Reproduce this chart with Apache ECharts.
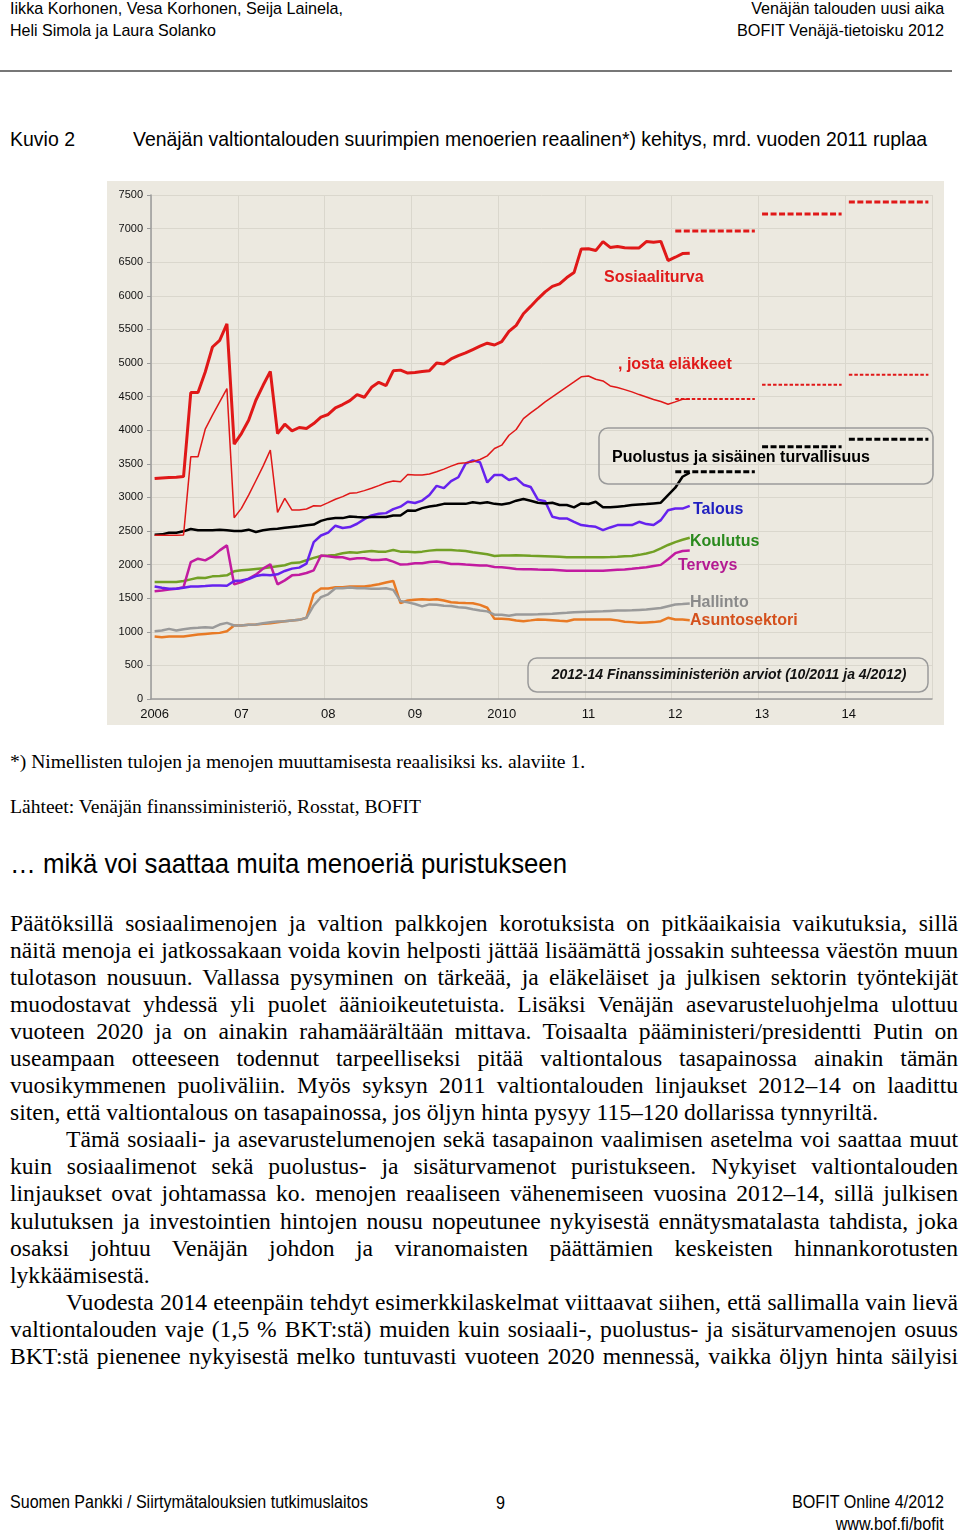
<!DOCTYPE html>
<html>
<head>
<meta charset="utf-8">
<script src="https://cdn.jsdelivr.net/npm/echarts@6/dist/echarts.min.js"></script>
<style>
  body { margin: 0; width: 960px; height: 1534px; background: #fff; position: relative; overflow: hidden; color: #000; }
  .narrow { font-family: "Liberation Sans", Arial, sans-serif; display: inline-block; }
  .serif { font-family: "Liberation Serif", "Times New Roman", serif; }
  .abs { position: absolute; white-space: nowrap; }
  #chart { position: absolute; left: 107px; top: 181px; width: 837px; height: 544px; }
  .body { position: absolute; left: 10px; top: 909.5px; width: 948px; font-size: 23.6px; line-height: 27.1px; }
  .ln { white-space: nowrap; height: 27.1px; text-align: justify; text-align-last: justify; }
  .ln.end { text-align-last: left; }
  .ln.ind { padding-left: 56px; }
</style>
</head>
<body>
  <div class="abs narrow" data-w="333" style="left:10px; top:-2.5px; font-size:17px; line-height:22px;">Iikka Korhonen, Vesa Korhonen, Seija Lainela,</div>
  <div class="abs narrow" data-w="206" style="left:10px; top:20px; font-size:17px; line-height:22px;">Heli Simola ja Laura Solanko</div>
  <div class="abs narrow" data-w="193" data-r="1" style="right:16px; top:-2.5px; font-size:17px; line-height:22px;">Venäjän talouden uusi aika</div>
  <div class="abs narrow" data-w="207" data-r="1" style="right:16px; top:20px; font-size:17px; line-height:22px;">BOFIT Venäjä-tietoisku 2012</div>
  <div class="abs" style="left:0; top:70px; width:952px; height:1.5px; background:#777;"></div>

  <div class="abs narrow" data-w="65" style="left:10px; top:126px; font-size:21px; line-height:26px;">Kuvio 2</div>
  <div class="abs narrow" data-w="794" style="left:133px; top:126px; font-size:21px; line-height:26px;">Venäjän valtiontalouden suurimpien menoerien reaalinen*) kehitys, mrd. vuoden 2011 ruplaa</div>

  <div id="chart"></div>

  <div class="abs serif" style="left:10px; top:750px; font-size:19.6px; line-height:24px;">*) Nimellisten tulojen ja menojen muuttamisesta reaalisiksi ks. alaviite 1.</div>
  <div class="abs serif" style="left:10px; top:795px; font-size:19.6px; line-height:24px;">Lähteet: Venäjän finanssiministeriö, Rosstat, BOFIT</div>

  <div class="abs narrow" data-w="557" style="left:10px; top:848px; font-size:28px; line-height:32px;">… mikä voi saattaa muita menoeriä puristukseen</div>

  <div class="body serif">
    <div class="ln">Päätöksillä sosiaalimenojen ja valtion palkkojen korotuksista on pitkäaikaisia vaikutuksia, sillä</div>
    <div class="ln">näitä menoja ei jatkossakaan voida kovin helposti jättää lisäämättä jossakin suhteessa väestön muun</div>
    <div class="ln">tulotason nousuun. Vallassa pysyminen on tärkeää, ja eläkeläiset ja julkisen sektorin työntekijät</div>
    <div class="ln">muodostavat yhdessä yli puolet äänioikeutetuista. Lisäksi Venäjän asevarusteluohjelma ulottuu</div>
    <div class="ln">vuoteen 2020 ja on ainakin rahamäärältään mittava. Toisaalta pääministeri/presidentti Putin on</div>
    <div class="ln">useampaan otteeseen todennut tarpeelliseksi pitää valtiontalous tasapainossa ainakin tämän</div>
    <div class="ln">vuosikymmenen puoliväliin. Myös syksyn 2011 valtiontalouden linjaukset 2012–14 on laadittu</div>
    <div class="ln end">siten, että valtiontalous on tasapainossa, jos öljyn hinta pysyy 115–120 dollarissa tynnyriltä.</div>
    <div class="ln ind">Tämä sosiaali- ja asevarustelumenojen sekä tasapainon vaalimisen asetelma voi saattaa muut</div>
    <div class="ln">kuin sosiaalimenot sekä puolustus- ja sisäturvamenot puristukseen. Nykyiset valtiontalouden</div>
    <div class="ln">linjaukset ovat johtamassa ko. menojen reaaliseen vähenemiseen vuosina 2012–14, sillä julkisen</div>
    <div class="ln">kulutuksen ja investointien hintojen nousu nopeutunee nykyisestä ennätysmatalasta tahdista, joka</div>
    <div class="ln">osaksi johtuu Venäjän johdon ja viranomaisten päättämien keskeisten hinnankorotusten</div>
    <div class="ln end">lykkäämisestä.</div>
    <div class="ln ind">Vuodesta 2014 eteenpäin tehdyt esimerkkilaskelmat viittaavat siihen, että sallimalla vain lievä</div>
    <div class="ln">valtiontalouden vaje (1,5 % BKT:stä) muiden kuin sosiaali-, puolustus- ja sisäturvamenojen osuus</div>
    <div class="ln">BKT:stä pienenee nykyisestä melko tuntuvasti vuoteen 2020 mennessä, vaikka öljyn hinta säilyisi</div>
  </div>

  <div class="abs narrow" data-w="358" style="left:10px; top:1491px; font-size:17.5px; line-height:22px;">Suomen Pankki / Siirtymätalouksien tutkimuslaitos</div>
  <div class="abs narrow" data-w="9" style="left:496px; top:1492px; font-size:17.5px; line-height:22px;">9</div>
  <div class="abs narrow" data-w="152" data-r="1" style="right:16px; top:1491px; font-size:17.5px; line-height:22px;">BOFIT Online 4/2012</div>
  <div class="abs narrow" data-w="108" data-r="1" style="right:16px; top:1513px; font-size:17.5px; line-height:22px;">www.bof.fi/bofit</div>

<script>
// kuukausidata 1/2006 - 3/2012, mrd. vuoden 2011 ruplaa
const sosiaaliturva = [3280, 3290, 3295, 3300, 3310,
  4560, 4560, 4866, 5238, 5337, 5584, 3792, 3950, 4149, 4446, 4668, 4876,
  3950, 4089, 3990, 4040, 4025, 4099, 4195, 4234, 4333, 4382, 4441, 4530,
  4490, 4638, 4712, 4663, 4884, 4894, 4850, 4860, 4874, 4884, 5000, 4985,
  5060, 5110, 5150, 5200, 5250, 5295, 5268, 5318, 5470, 5560, 5733, 5842,
  5955, 6058, 6140, 6178, 6272, 6345, 6698, 6700, 6673, 6807, 6720, 6733,
  6715, 6710, 6712, 6807, 6797, 6810, 6525, 6574, 6628, 6634];
const elakkeet = [2435, 2435, 2435, 2435, 2440,
  3604, 3604, 4015, 4223, 4421, 4619, 2698, 2837, 3035, 3248, 3466, 3703,
  2778, 2985, 2812, 2812, 2827, 2876, 2873, 2922, 2973, 3012, 3062, 3071,
  3101, 3136, 3175, 3219, 3244, 3234, 3342, 3333, 3333, 3347, 3382, 3421,
  3466, 3505, 3515, 3530, 3564, 3618, 3727, 3777, 3925, 4010, 4173, 4258,
  4337, 4421, 4495, 4570, 4644, 4718, 4795, 4807, 4758, 4733, 4659, 4634,
  4604, 4570, 4530, 4495, 4456, 4426, 4386, 4421, 4461, 4461];
const puolustus = [2445, 2450, 2475, 2475, 2495,
  2530, 2510, 2510, 2510, 2520, 2510, 2500, 2500, 2520, 2485, 2510, 2525,
  2535, 2550, 2560, 2570, 2585, 2595, 2650, 2680, 2692, 2692, 2717, 2707,
  2702, 2707, 2707, 2707, 2732, 2732, 2806, 2800, 2840, 2865, 2879, 2904,
  2904, 2904, 2904, 2929, 2914, 2929, 2904, 2895, 2912, 2951, 2976, 2951,
  2921, 2911, 2921, 2887, 2887, 2852, 2911, 2901, 2936, 2852, 2852, 2862,
  2872, 2887, 2896, 2901, 2911, 2921, 3035, 3144, 3307, 3367];
const talous = [1675, 1655, 1640, 1640, 1655,
  1675, 1675, 1680, 1690, 1690, 1685, 1755, 1765, 1785, 1830, 1850, 1840,
  1855, 1905, 1940, 1955, 2015, 2335, 2433, 2475, 2579, 2544, 2559, 2608,
  2677, 2732, 2756, 2766, 2825, 2862, 2935, 2916, 2953, 3035, 3172, 3138,
  3242, 3300, 3502, 3551, 3522, 3222, 3335, 3335, 3260, 3288, 3189, 3155,
  2967, 2943, 2711, 2687, 2687, 2637, 2588, 2573, 2563, 2514, 2553, 2588,
  2588, 2588, 2637, 2603, 2588, 2662, 2810, 2834, 2834, 2874];
const koulutus = [1740, 1740, 1740, 1740, 1755,
  1780, 1805, 1800, 1825, 1830, 1840, 1900, 1915, 1925, 1935, 1945, 1960,
  1975, 1990, 2025, 2030, 2065, 2100, 2127, 2134, 2144, 2168, 2183, 2178,
  2193, 2203, 2193, 2193, 2218, 2193, 2193, 2183, 2193, 2208, 2218, 2218,
  2218, 2208, 2203, 2183, 2168, 2153, 2129, 2134, 2134, 2139, 2135, 2130,
  2129, 2125, 2120, 2115, 2110, 2110, 2110, 2110, 2108, 2110, 2112, 2118,
  2125, 2129, 2145, 2165, 2193, 2240, 2292, 2335, 2370, 2400];
const terveys = [1605, 1615, 1630, 1640, 1665,
  2038, 2088, 2063, 2122, 2212, 2286, 1705, 1740, 1790, 1850, 1940, 2005,
  1705, 1765, 1840, 1850, 1875, 1915, 2135, 2125, 2109, 2109, 2079, 2094,
  2094, 2069, 2069, 2079, 2045, 2000, 2005, 2020, 2020, 2040, 2046, 2030,
  2010, 2010, 2000, 1995, 1985, 1985, 1965, 1960, 1950, 1935, 1932, 1932,
  1928, 1925, 1922, 1915, 1908, 1908, 1908, 1908, 1908, 1908, 1915, 1922,
  1928, 1937, 1948, 1962, 1980, 1996, 2080, 2170, 2203, 2208];
const hallinto = [1009, 1019, 1044, 1019, 1039,
  1054, 1059, 1069, 1059, 1108, 1133, 1094, 1094, 1104, 1108, 1128, 1143,
  1153, 1158, 1168, 1178, 1208, 1392, 1516, 1558, 1649, 1649, 1658, 1649,
  1649, 1639, 1639, 1649, 1624, 1457, 1438, 1413, 1378, 1408, 1403, 1388,
  1383, 1366, 1358, 1337, 1317, 1304, 1255, 1255, 1238, 1257, 1257, 1257,
  1260, 1264, 1267, 1275, 1282, 1290, 1296, 1300, 1303, 1306, 1311, 1316,
  1318, 1321, 1326, 1331, 1343, 1355, 1380, 1405, 1412, 1420];
const asuntosektori = [929, 920, 929, 929, 929,
  944, 959, 969, 979, 984, 1009, 1094, 1094, 1104, 1108, 1118, 1128,
  1143, 1158, 1168, 1178, 1208, 1566, 1645, 1645, 1663, 1663, 1673, 1673,
  1673, 1688, 1708, 1733, 1757, 1428, 1465, 1477, 1485, 1477, 1485, 1465,
  1441, 1432, 1428, 1426, 1401, 1358, 1193, 1193, 1188, 1168, 1158, 1170,
  1183, 1178, 1173, 1165, 1158, 1183, 1183, 1183, 1183, 1183, 1183, 1170,
  1150, 1144, 1134, 1140, 1144, 1158, 1208, 1183, 1183, 1173];

// Finanssiministeriön arviot vuosille 2012-14
const ennusteVuodet = ['2012', '2013', '2014'];
const sosiaaliturvaEnnuste = [6964, 7217, 7396];
const elakkeetEnnuste = [4464, 4677, 4826];
const puolustusEnnuste = [3382, 3754, 3865];

const xTickLabels = ['2006', '07', '08', '09', '2010', '11', '12', '13', '14'];

// kapea fontti: venytetään teksti alkuperäiseen leveyteen
document.querySelectorAll('[data-w]').forEach(el => {
  const w = el.getBoundingClientRect().width;
  el.style.transformOrigin = el.dataset.r ? 'right center' : 'left center';
  el.style.transform = 'scaleX(' + (+el.dataset.w / w) + ')';
});
// jos tasattu rivi ei mahdu, kavennetaan sitä hieman
document.querySelectorAll('.ln').forEach(el => {
  if (el.scrollWidth > el.clientWidth + 1) {
    el.style.transformOrigin = 'left center';
    el.style.width = el.scrollWidth + 'px';
    el.style.transform = 'scaleX(' + (948 / el.scrollWidth) + ')';
  }
});

const months = [];
for (let y = 2006; y <= 2014; y++) {
  for (let m = 1; m <= 12; m++) months.push(y + '-' + (m < 10 ? '0' + m : m));
}

function line(name, data, color, width) {
  return {
    name: name, type: 'line', data: data, symbol: 'none', silent: true,
    lineStyle: { color: color, width: width }, itemStyle: { color: color }
  };
}

function forecast(values, color, width, dash) {
  return ennusteVuodet.map((yr, k) => ({
    type: 'line', symbol: 'none', silent: true,
    data: months.map(m => m.slice(0, 4) === yr ? values[k] : '-'),
    lineStyle: { color: color, width: width, type: dash }
  }));
}

function label(text, x, y, color) {
  return {
    type: 'text', x: x, y: y, z: 100,
    style: { text: text, fill: color, font: 'bold 16px "Liberation Sans", Arial, sans-serif', verticalAlign: 'middle' }
  };
}

const chart = echarts.init(document.getElementById('chart'));
chart.setOption({
  backgroundColor: '#ECE9E0',
  animation: false,
  grid: { left: 44, right: 12, top: 14, bottom: 26 },
  xAxis: {
    type: 'category', data: months, boundaryGap: true,
    axisLine: { lineStyle: { color: '#9a9a9a', width: 1.5 } },
    axisTick: { interval: 11, length: 4, lineStyle: { color: '#9a9a9a' } },
    splitLine: { show: true, interval: 11, lineStyle: { color: '#DAD7CD', width: 1 } },
    axisLabel: {
      interval: 11, margin: 9, color: '#111', fontSize: 13,
      fontFamily: '"Liberation Sans", Arial, sans-serif',
      formatter: (v, i) => xTickLabels[Math.round(i / 12)]
    }
  },
  yAxis: {
    type: 'value', min: 0, max: 7500, interval: 500,
    axisLine: { show: true, lineStyle: { color: '#9a9a9a', width: 1.5 } },
    axisTick: { show: true, length: 4, lineStyle: { color: '#9a9a9a' } },
    splitLine: { lineStyle: { color: '#DAD7CD', width: 1 } },
    axisLabel: {
      margin: 8, color: '#111', fontSize: 11, fontFamily: '"Liberation Sans", Arial, sans-serif',
      formatter: v => String(v)
    }
  },
  series: [
    line('Asuntosektori', asuntosektori, '#E87A25', 2.5),
    line('Hallinto', hallinto, '#9A9A9A', 2.5),
    line('Koulutus', koulutus, '#72A025', 2.5),
    line('Terveys', terveys, '#C21BA0', 2.5),
    line('Talous', talous, '#6622EE', 2.5),
    line('Puolustus ja sisäinen turvallisuus', puolustus, '#000000', 2.5),
    line(', josta eläkkeet', elakkeet, '#E01818', 1.5),
    line('Sosiaaliturva', sosiaaliturva, '#E01818', 3)
  ].concat(
    forecast(sosiaaliturvaEnnuste, '#E01818', 3, [6, 2.5]),
    forecast(elakkeetEnnuste, '#E01818', 2, [3.5, 2]),
    forecast(puolustusEnnuste, '#000000', 3, [6, 2.5])
  ),
  graphic: [
    { type: 'rect', z: 90, shape: { x: 492, y: 247, width: 334, height: 56, r: 9 },
      style: { fill: 'none', stroke: '#9a9a9a', lineWidth: 1.5 } },
    { type: 'rect', z: 90, shape: { x: 421, y: 477, width: 400, height: 34, r: 9 },
      style: { fill: 'none', stroke: '#9a9a9a', lineWidth: 1.5 } },
    label('Sosiaaliturva', 497, 97, '#E01A1A'),
    label(', josta eläkkeet', 511, 184, '#E01A1A'),
    label('Puolustus ja sisäinen turvallisuus', 505, 277, '#000000'),
    label('Talous', 586, 329, '#2020C0'),
    label('Koulutus', 583, 361, '#2A8A1E'),
    label('Terveys', 571, 385, '#B41A92'),
    label('Hallinto', 583, 422, '#8A8A8A'),
    label('Asuntosektori', 583, 440, '#D4501C'),
    {
      type: 'text', x: 622, y: 494, z: 100,
      style: { text: '2012-14 Finanssiministeriön arviot (10/2011 ja 4/2012)', fill: '#111',
        font: 'italic bold 14px "Liberation Sans", Arial, sans-serif', align: 'center', verticalAlign: 'middle' }
    }
  ]
});
</script>
</body>
</html>
